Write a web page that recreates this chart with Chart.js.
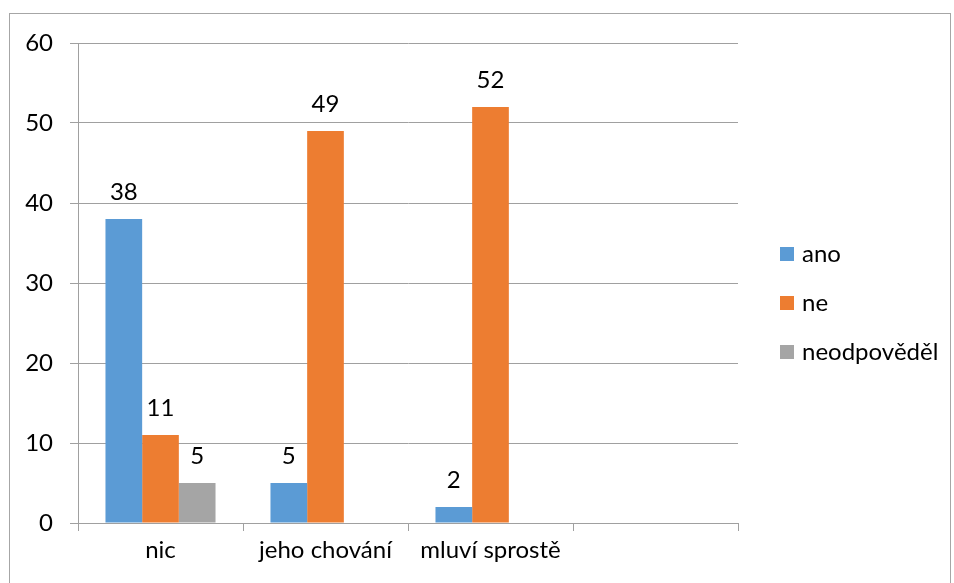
<!DOCTYPE html>
<html>
<head>
<meta charset="utf-8">
<script src="https://cdn.jsdelivr.net/npm/chart.js@4"></script>
<style>
  html, body { margin: 0; padding: 0; background: #fff; }
  #wrap { position: relative; width: 954px; height: 583px; overflow: hidden; }
  #frame { position: absolute; left: 9px; top: 13px; width: 942px; height: 600px; border: 1px solid #a6a6a6; box-sizing: border-box; }
  #legend { position: absolute; left: 780px; top: 239px; font-family: Lato, sans-serif; font-size: 24px; line-height: 28px; color: #000; }
  #legend .item { height: 49px; display: flex; align-items: flex-start; }
  #legend .box { width: 14px; height: 14px; margin-top: 8px; margin-right: 8px; }
  canvas { position: absolute; left: 0; top: 0; }
</style>
</head>
<body>
<div id="wrap">
  <div id="frame"></div>
  <canvas id="plot_1" width="954" height="583"></canvas>
  <div id="legend"></div>
</div>
<script>
const kategorie = ['nic', 'jeho chování', 'mluví sprostě', ''];
const ano = [38, 5, 2, null];
const ne = [11, 49, 52, null];
const neodpovedel = [5, null, null, null];
const y_ticks = [0, 10, 20, 30, 40, 50, 60];

const barvy = ['#5b9bd5', '#ed7d31', '#a5a5a5'];
const plot_1 = document.getElementById('plot_1');

// popisky hodnot nad sloupci
const popisky = {
    id: 'popisky',
    afterDatasetsDraw(chart) {
        const ctx = chart.ctx;
        ctx.save();
        ctx.font = '24px Lato, sans-serif';
        ctx.fillStyle = '#000';
        ctx.textAlign = 'center';
        ctx.textBaseline = 'alphabetic';
        chart.data.datasets.forEach((ds, i) => {
            chart.getDatasetMeta(i).data.forEach((bar, j) => {
                const v = ds.data[j];
                if (v === null || v === undefined) return;
                ctx.fillText(String(v), bar.x, bar.y - 19);
            });
        });
        ctx.restore();
    }
};

const dados = {
    type: 'bar',
    data: {
        labels: kategorie,
        datasets: [
            { label: 'ano', data: ano, backgroundColor: barvy[0] },
            { label: 'ne', data: ne, backgroundColor: barvy[1] },
            { label: 'neodpověděl', data: neodpovedel, backgroundColor: barvy[2] }
        ]
    },
    options: {
        responsive: false,
        animation: false,
        layout: { padding: { left: 0, top: 43, right: 216, bottom: 0 } },
        datasets: { bar: { barPercentage: 1, categoryPercentage: 0.667 } },
        plugins: { legend: { display: false }, tooltip: { enabled: false } },
        scales: {
            x: {
                offset: true,
                grid: { offset: true, drawOnChartArea: false, drawTicks: true, tickLength: 8, color: '#a0a0a0' },
                border: { color: '#a0a0a0' },
                ticks: { color: '#000', font: { family: 'Lato, sans-serif', size: 24 }, padding: 5, maxRotation: 0 },
                afterFit(s) { s.height = 60; }
            },
            y: {
                min: y_ticks[0],
                max: y_ticks[y_ticks.length - 1],
                grid: { color: '#a0a0a0', tickLength: 8 },
                border: { color: '#a0a0a0' },
                ticks: { stepSize: 10, color: '#000', font: { family: 'Lato, sans-serif', size: 24 }, padding: 17 },
                afterFit(s) { s.width = 78; }
            }
        }
    },
    plugins: [popisky]
};

const graf = new Chart(plot_1, dados);

const legenda = document.getElementById('legend');
dados.data.datasets.forEach(ds => {
    const it = document.createElement('div');
    it.className = 'item';
    it.innerHTML = '<div class="box" style="background:' + ds.backgroundColor + '"></div><span>' + ds.label + '</span>';
    legenda.appendChild(it);
});
</script>
</body>
</html>
